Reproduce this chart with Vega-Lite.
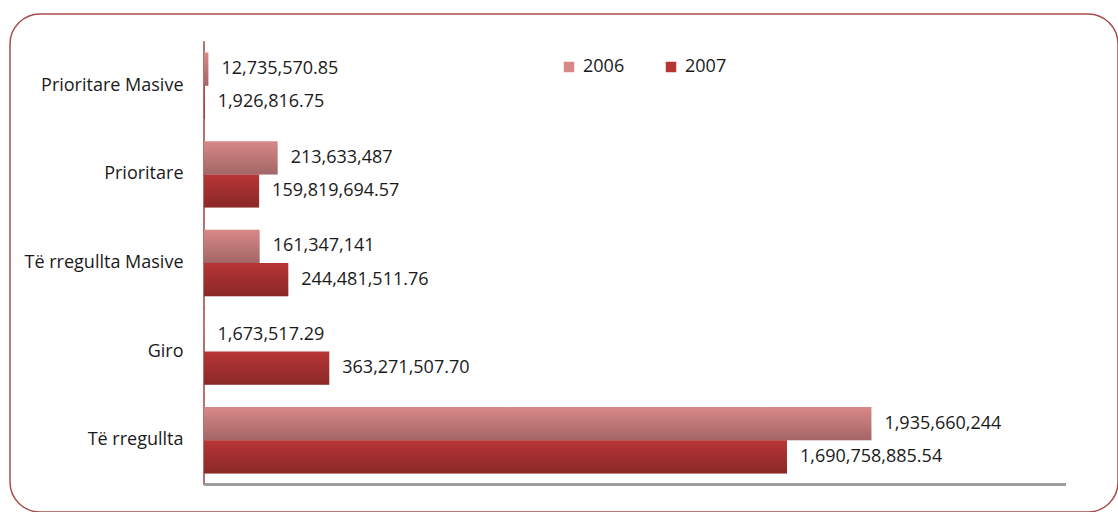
{
  "$schema": "https://vega.github.io/schema/vega-lite/v6.json",
  "width": 1108,
  "height": 498,
  "autosize": {"type": "none"},
  "padding": {"left": 10, "top": 14, "right": 0, "bottom": 0},
  "background": "white",
  "config": {
    "font": "Open Sans",
    "view": {"stroke": "#a84c4c", "strokeWidth": 1.5, "cornerRadius": 30}
  },
  "data": {
    "values": [
      {"cat": "Prioritare Masive", "year": "2006", "value": 12735570.85, "label": "12,735,570.85"},
      {"cat": "Prioritare Masive", "year": "2007", "value": 1926816.75, "label": "1,926,816.75"},
      {"cat": "Prioritare", "year": "2006", "value": 213633487, "label": "213,633,487"},
      {"cat": "Prioritare", "year": "2007", "value": 159819694.57, "label": "159,819,694.57"},
      {"cat": "Të rregullta Masive", "year": "2006", "value": 161347141, "label": "161,347,141"},
      {"cat": "Të rregullta Masive", "year": "2007", "value": 244481511.76, "label": "244,481,511.76"},
      {"cat": "Giro", "year": "2006", "value": 1673517.29, "label": "1,673,517.29"},
      {"cat": "Giro", "year": "2007", "value": 363271507.70, "label": "363,271,507.70"},
      {"cat": "Të rregullta", "year": "2006", "value": 1935660244, "label": "1,935,660,244"},
      {"cat": "Të rregullta", "year": "2007", "value": 1690758885.54, "label": "1,690,758,885.54"}
    ]
  },
  "layer": [
    {
      "mark": {"type": "tick", "size": 89, "thickness": 1.5, "color": "#a34848", "orient": "vertical"},
      "encoding": {
        "x": {"datum": 0, "type": "quantitative", "axis": null,
              "scale": {"domain": [-562645000, 2650812000], "nice": false, "zero": false}},
        "y": {"field": "cat", "type": "nominal", "title": null,
              "sort": ["Prioritare Masive", "Prioritare", "Të rregullta Masive", "Giro", "Të rregullta"],
              "scale": {"paddingInner": 0.25, "paddingOuter": 0.435},
              "axis": {"domain": false, "ticks": false, "offset": -173, "labelPadding": 0,
                       "labelFontSize": 18, "labelColor": "#1a1a1a", "labelFont": "Open Sans", "labelLimit": 300}}
      }
    },
    {
      "mark": {"type": "bar"},
      "encoding": {
        "x": {"field": "value", "type": "quantitative"},
        "y": {"field": "cat", "type": "nominal",
              "sort": ["Prioritare Masive", "Prioritare", "Të rregullta Masive", "Giro", "Të rregullta"]},
        "yOffset": {"field": "year", "type": "nominal", "sort": ["2006", "2007"]},
        "color": {"field": "year", "type": "nominal",
                  "scale": {"domain": ["2006", "2007"], "range": ["#d98888", "#b83535"]},
                  "legend": {"orient": "none", "legendX": 550, "legendY": 44, "direction": "horizontal",
                             "title": null, "symbolType": "square", "symbolSize": 110, "symbolStrokeWidth": 0,
                             "labelFontSize": 18, "labelColor": "#1a1a1a", "labelFont": "Open Sans",
                             "columnPadding": 37, "labelOffset": 5, "padding": 0}}
      }
    },
    {
      "mark": {"type": "bar",
               "fill": {"gradient": "linear", "x1": 0, "y1": 0, "x2": 0, "y2": 1,
                        "stops": [{"offset": 0, "color": "rgba(0,0,0,0)"}, {"offset": 1, "color": "rgba(0,0,0,0.25)"}]}},
      "encoding": {
        "x": {"field": "value", "type": "quantitative"},
        "y": {"field": "cat", "type": "nominal",
              "sort": ["Prioritare Masive", "Prioritare", "Të rregullta Masive", "Giro", "Të rregullta"]},
        "yOffset": {"field": "year", "type": "nominal", "sort": ["2006", "2007"]}
      }
    },
    {
      "mark": {"type": "text", "align": "left", "baseline": "middle", "dx": 13, "fontSize": 18,
               "font": "Open Sans", "color": "#1a1a1a"},
      "encoding": {
        "x": {"field": "value", "type": "quantitative"},
        "y": {"field": "cat", "type": "nominal",
              "sort": ["Prioritare Masive", "Prioritare", "Të rregullta Masive", "Giro", "Të rregullta"]},
        "yOffset": {"field": "year", "type": "nominal", "sort": ["2006", "2007"]},
        "text": {"field": "label", "type": "nominal"}
      }
    },
    {
      "mark": {"type": "rule", "color": "#9a9a9a", "strokeWidth": 1.5},
      "encoding": {
        "x": {"datum": 0, "type": "quantitative"},
        "x2": {"datum": 2500000000},
        "y": {"datum": "Të rregullta", "type": "nominal", "bandPosition": 1.1667}
      }
    }
  ]
}
